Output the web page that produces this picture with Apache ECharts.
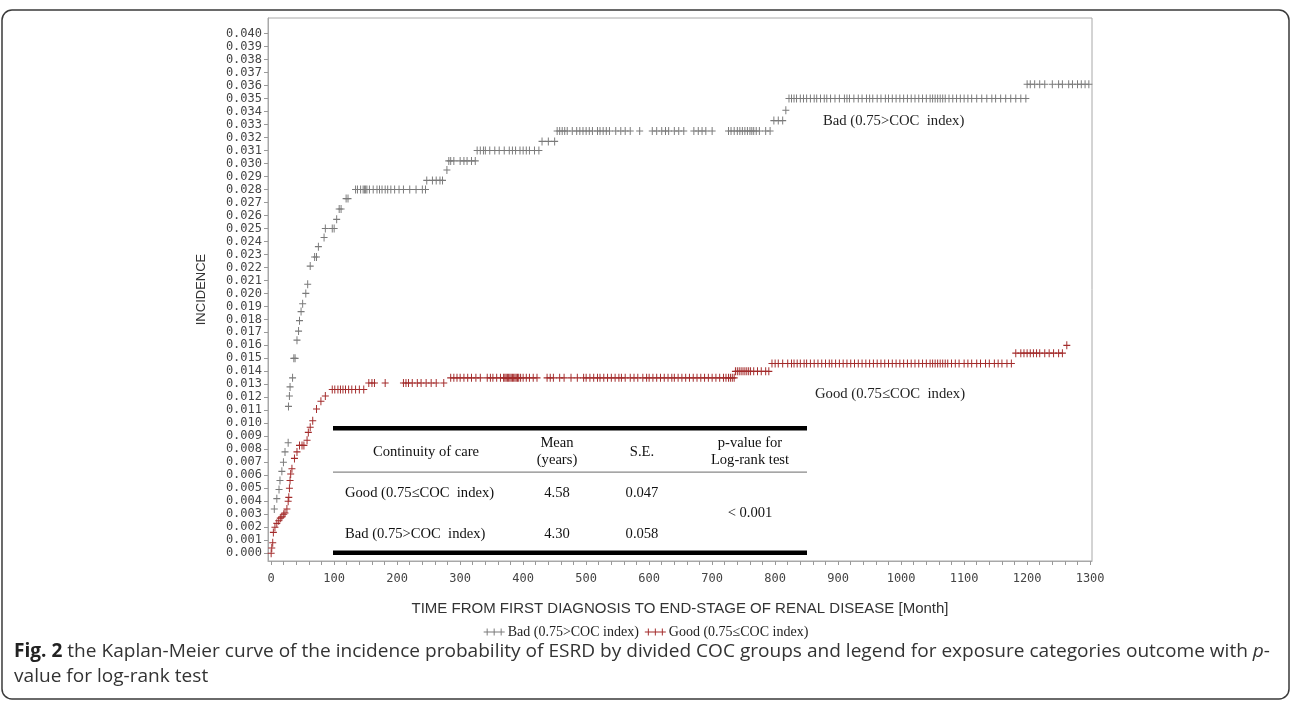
<!DOCTYPE html>
<html><head><meta charset="utf-8">
<script src="https://cdn.jsdelivr.net/npm/echarts@6/dist/echarts.min.js"></script>
<style>html,body{margin:0;padding:0;background:#fff}#c{width:1292px;height:704px}</style>
</head><body><div id="c"></div>
<script>
// ---------------- DATA ----------------
const xTicks = [0,100,200,300,400,500,600,700,800,900,1000,1100,1200,1300];
const yTicks = [0,0.001,0.002,0.003,0.004,0.005,0.006,0.007,0.008,0.009,0.010,0.011,0.012,0.013,0.014,0.015,0.016,0.017,0.018,0.019,0.020,0.021,0.022,0.023,0.024,0.025,0.026,0.027,0.028,0.029,0.030,0.031,0.032,0.033,0.034,0.035,0.036,0.037,0.038,0.039,0.040];

// Bad (0.75>COC index): incidence level and censor times (months) at that level
const badLevels = [0.0034,0.0042,0.0049,0.0056,0.0063,0.0070,0.0078,0.0085,0.0113,0.0121,0.0128,0.0135,0.0150,0.0164,0.0171,0.0179,0.0186,0.0192,0.0200,0.0207,0.0221,0.0228,0.0236,0.0243,0.0250,0.0257,0.0265,0.0273,0.0280,0.0287,0.0295,0.0302,0.0310,0.0317,0.0325,0.0333,0.0341,0.0350,0.0361];
const badTimes = [
  [5],[9],[12.5],[14],[17],[19.5],[22],[27],[27.5],[29],[30],[34],[36,38],[41],[43.5],[45],[47.5],[50],[55],[58],[62],[69,72],[75],[84],[86,97,100],[104],[108,111],[119,122],
  [134,137,142,146,148,150,152,156,162,168,172,176,181,185,190,196,203,210,220,230,240,245],
  [247,256,262,268,272],
  [279],
  [282,285,290,300,306,311,318,324],
  [327,332,337,340,347,355,362,370,378,383,388,395,400,405,410,418,425],
  [430,440,450],
  [454,458,462,466,470,478,485,490,495,500,505,510,518,522,527,532,537,547,555,562,570,585,605,612,620,626,631,640,647,655,671,678,684,690,700,726,730,735,740,744,748,752,756,760,763,766,770,775,785,792],
  [798,805,812],
  [817],
  [822,826,830,834,840,845,850,856,862,866,872,878,882,888,895,902,910,914,918,925,932,938,945,950,955,962,968,975,980,986,992,998,1004,1010,1016,1022,1028,1034,1040,1046,1050,1054,1058,1062,1066,1070,1076,1082,1088,1094,1100,1106,1112,1120,1128,1136,1144,1150,1158,1166,1174,1182,1190,1198],
  [1200,1205,1212,1220,1228,1240,1250,1256,1266,1272,1280,1286,1292,1298]
];

// Good (0.75<=COC index)
const goodLevels = [0.0000,0.0004,0.0008,0.0016,0.0020,0.0023,0.0025,0.0027,0.0028,0.0030,0.0031,0.0034,0.0040,0.0043,0.0050,0.0056,0.0061,0.0065,0.0073,0.0078,0.0083,0.0087,0.0093,0.0097,0.0102,0.0111,0.0117,0.0121,0.0126,0.0131,0.0135,0.0140,0.0146,0.0154,0.0160];
const goodTimes = [
  [0],[1],[2.5],[3.5],[6],[9],[12],[14.5],[17],[20],[22],[25],[27],[28],[29],[30],[31],[33],[37],[41],[45,49,52],[57],[59],[62],[66],[72],[79],[86],
  [97,101,106,110,114,118,123,128,134,140,147],
  [155,160,164,181,210,214,218,224,232,238,246,254,262,274],
  [285,290,295,300,306,312,318,325,332,343,348,352,358,364,369,371,373,375,377,379,381,383,385,387,389,391,393,396,400,405,410,416,422,438,443,448,458,465,476,486,496,500,506,512,518,522,528,534,540,546,552,556,562,570,576,582,590,596,600,606,612,618,624,630,636,640,646,652,658,664,670,676,682,688,694,700,706,712,718,722,726,729,732,735],
  [737,740,743,746,749,752,755,758,761,766,772,778,785,790],
  [795,800,805,812,820,826,830,835,840,846,850,856,862,868,874,880,886,890,896,902,908,914,920,926,932,938,944,950,956,962,968,974,980,986,992,998,1004,1010,1016,1022,1028,1034,1040,1046,1050,1054,1058,1062,1066,1070,1074,1080,1086,1092,1100,1106,1112,1120,1126,1134,1140,1148,1154,1160,1168,1175],
  [1182,1190,1195,1200,1205,1210,1215,1220,1228,1235,1242,1250,1256],
  [1263]
];

const seriesNames = ['Bad (0.75>COC index)', 'Good (0.75\u2264COC index)'];
const curveLabels = ['Bad (0.75>COC  index)', 'Good (0.75\u2264COC  index)'];
const tableHeader = ['Continuity of care', 'Mean\n(years)', 'S.E.', 'p-value for\nLog-rank test'];
const tableGroups = ['Good (0.75\u2264COC  index)', 'Bad (0.75>COC  index)'];
const tableMeans = ['4.58', '4.30'];
const tableSE = ['0.047', '0.058'];
const tablePValue = '< 0.001';
const xTitle = 'TIME FROM FIRST DIAGNOSIS TO END-STAGE OF RENAL DISEASE [Month]';
const yTitle = 'INCIDENCE';
const captionBold = 'Fig. 2';
const captionLine1 = ' the Kaplan-Meier curve of the incidence probability of ESRD by divided COC groups and legend for exposure categories outcome with ';
const captionLine2 = 'value for log-rank test';

// ---------------- BUILD ----------------
function toPoints(levels, times) {
  const out = [];
  levels.forEach((lv, i) => times[i].forEach(t => out.push([t, lv])));
  return out;
}
const xAllTicks = [];
for (let i = 0; i < xTicks.length; i++) {
  xAllTicks.push(xTicks[i]);
  if (i < xTicks.length - 1) {
    const step = (xTicks[i + 1] - xTicks[i]) / 5;
    for (let k = 1; k < 5; k++) xAllTicks.push(xTicks[i] + k * step);
  }
}

const PLUS = 'path://M4.3,0H5.7V4.3H10V5.7H5.7V10H4.3V5.7H0V4.3H4.3Z';
const PLUS3 = 'path://M0,4.3H30V5.7H0Z M4.3,0H5.7V10H4.3Z M14.3,0H15.7V10H14.3Z M24.3,0H25.7V10H24.3Z';
const GRAY = '#7a7a7a';
const RED = '#a32b2b';
const MONO = '"DejaVu Sans Mono", monospace';
const SERIF = '"Liberation Serif", "Times New Roman", serif';
const SANS = '"Liberation Sans", Arial, sans-serif';
const CAP = '"Open Sans"';
const CAPSIZE = 19;

const chart = echarts.init(document.getElementById('c'), null, {renderer: 'canvas'});

// caption scaling (condensed look)
const cv = document.createElement('canvas').getContext('2d');
cv.font = 'bold ' + CAPSIZE + 'px ' + CAP;
let capW = cv.measureText(captionBold).width;
cv.font = CAPSIZE + 'px ' + CAP;
capW += cv.measureText(captionLine1).width + cv.measureText('-').width;
cv.font = 'italic ' + CAPSIZE + 'px ' + CAP;
capW += cv.measureText('p').width;
const capScale = (1270 - 14) / capW;

// table geometry
const tL = 333, tR = 807;
const colX = [426, 557, 642, 750];
const TF = '14.6px ' + SERIF;
const tableEls = [
  {type: 'rect', shape: {x: tL, y: 426, width: tR - tL, height: 4.5}, style: {fill: '#000'}},
  {type: 'rect', shape: {x: tL, y: 471.5, width: tR - tL, height: 1.2}, style: {fill: '#888'}},
  {type: 'rect', shape: {x: tL, y: 550.5, width: tR - tL, height: 4.5}, style: {fill: '#000'}}
];
tableHeader.forEach((h, i) => tableEls.push({type: 'text', x: colX[i], y: 452,
  style: {text: h, font: TF, fill: '#111', textAlign: 'center', textVerticalAlign: 'middle', lineHeight: 17}}));
tableGroups.forEach((g, r) => {
  const yy = r === 0 ? 493 : 534;
  tableEls.push({type: 'text', x: 345, y: yy, style: {text: g, font: TF, fill: '#111', textAlign: 'left', textVerticalAlign: 'middle'}});
  tableEls.push({type: 'text', x: colX[1], y: yy, style: {text: tableMeans[r], font: TF, fill: '#111', textAlign: 'center', textVerticalAlign: 'middle'}});
  tableEls.push({type: 'text', x: colX[2], y: yy, style: {text: tableSE[r], font: TF, fill: '#111', textAlign: 'center', textVerticalAlign: 'middle'}});
});
tableEls.push({type: 'text', x: colX[3], y: 513, style: {text: tablePValue, font: TF, fill: '#111', textAlign: 'center', textVerticalAlign: 'middle'}});

const option = {
  animation: false,
  backgroundColor: '#fff',
  grid: {left: 268, right: 200, top: 18, bottom: 143, show: true, borderColor: '#a8a8a8', borderWidth: 1, containLabel: false},
  xAxis: {
    type: 'value', min: -5, max: 1303,
    name: xTitle, nameLocation: 'middle', nameGap: 40,
    nameTextStyle: {fontFamily: SANS, fontSize: 15, color: '#333'},
    axisLine: {show: true, onZero: false, lineStyle: {color: '#a8a8a8'}},
    axisTick: {show: true, length: 4, customValues: xAllTicks, lineStyle: {color: '#999'}},
    axisLabel: {customValues: xTicks, fontFamily: MONO, fontSize: 12, color: '#444', margin: 12, formatter: v => String(v)},
    splitLine: {show: false}
  },
  yAxis: {
    type: 'value', min: -0.0006, max: 0.0412,
    name: yTitle, nameLocation: 'middle', nameGap: 60, nameRotate: 90,
    nameTextStyle: {fontFamily: SANS, fontSize: 13, color: '#333'},
    axisLine: {show: true, onZero: false, lineStyle: {color: '#a8a8a8'}},
    axisTick: {show: true, length: 4, customValues: yTicks, lineStyle: {color: '#999'}},
    axisLabel: {customValues: yTicks, fontFamily: MONO, fontSize: 12, color: '#444', margin: 6,
      formatter: v => v.toFixed(3)},
    splitLine: {show: false}
  },
  legend: {
    data: seriesNames, left: 'center', top: 620, itemGap: 6, itemWidth: 21, itemHeight: 7,
    textStyle: {fontFamily: SERIF, fontSize: 14, color: '#222', padding: [0, 0, 0, -2]},
    selectedMode: false
  },
  series: [{
    name: seriesNames[0], type: 'scatter', data: toPoints(badLevels, badTimes),
    symbol: PLUS, symbolSize: [7, 8], itemStyle: {color: GRAY, opacity: 1},
    emphasis: {disabled: true}, silent: true
  }, {
    name: seriesNames[1], type: 'scatter', data: toPoints(goodLevels, goodTimes),
    symbol: PLUS, symbolSize: [7, 8], itemStyle: {color: RED, opacity: 1},
    emphasis: {disabled: true}, silent: true
  }],
  graphic: [
    {type: 'rect', shape: {x: 2, y: 10, width: 1287, height: 689, r: 10}, style: {fill: 'none', stroke: '#3a3a3a', lineWidth: 1.5}, z: 100},
    {type: 'text', x: 823, y: 121, style: {text: curveLabels[0], font: '14.7px ' + SERIF, fill: '#222', textVerticalAlign: 'middle'}},
    {type: 'text', x: 815, y: 394, style: {text: curveLabels[1], font: '14.7px ' + SERIF, fill: '#222', textVerticalAlign: 'middle'}},
    ...tableEls,
    {type: 'text', x: 14, y: 652, scaleX: capScale, originX: 0,
      style: {text: '{b|' + captionBold + '}' + captionLine1 + '{i|p}-', font: CAPSIZE + 'px ' + CAP, fill: '#333', textVerticalAlign: 'middle',
        rich: {b: {fontWeight: 'bold', fontFamily: 'Open Sans', fontSize: CAPSIZE, fill: '#222'}, i: {fontStyle: 'italic', fontFamily: 'Open Sans', fontSize: CAPSIZE}}}},
    {type: 'text', x: 14, y: 677, scaleX: capScale, originX: 0,
      style: {text: captionLine2, font: CAPSIZE + 'px ' + CAP, fill: '#333', textVerticalAlign: 'middle'}}
  ]
};
option.legend.data = seriesNames.map(n => ({name: n, icon: PLUS3}));
chart.setOption(option);
</script></body></html>
